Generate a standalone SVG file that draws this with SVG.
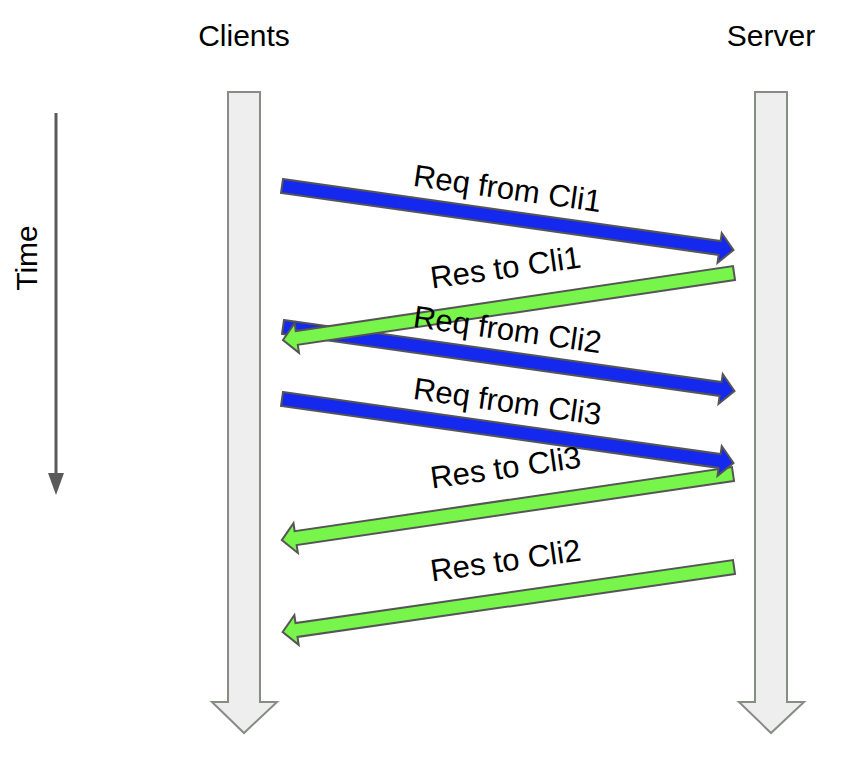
<svg xmlns="http://www.w3.org/2000/svg" xmlns:xlink="http://www.w3.org/1999/xlink" width="852" height="760" viewBox="0 0 852 760">
<style>
.lbl{font-family:"Liberation Sans",Arial,sans-serif;font-size:30px;fill:#000;text-anchor:middle}
.al{font-size:31px}
.life{fill:#eeeeee;stroke:#868c86;stroke-width:2}
.req{fill:#1428ee;stroke:#555555;stroke-width:2;stroke-linejoin:miter}
.res{fill:#78f54b;stroke:#555555;stroke-width:2;stroke-linejoin:miter}
</style>
<defs>
<polygon id="ba" points="0,-7 442,-7 442,-15 456,0 442,15 442,7 0,7"/>
</defs>
<rect width="852" height="760" fill="#ffffff"/>
<g id="clients">
<polygon class="life" points="228,92 260,92 260,702 277,702 244,733 212,702 228,702"/>
<text class="lbl" x="244" y="46">Clients</text>
</g>
<g id="server">
<polygon class="life" points="755,92 787,92 787,702 804,702 771,733 739,702 755,702"/>
<text class="lbl" x="771" y="46">Server</text>
</g>
<g id="time">
<line x1="56" y1="113" x2="56" y2="474" stroke="#5a5a5a" stroke-width="3"/>
<polygon points="48,473 64,473 56,495" fill="#5a5a5a"/>
<text class="lbl" transform="translate(37,258) rotate(-90)">Time</text>
</g>
<g id="connectors">
<use id="req1" xlink:href="#ba" class="req" transform="translate(282,186) rotate(8.06)"/>
<use id="req2" xlink:href="#ba" class="req" transform="translate(283,327) rotate(8.06)"/>
<use id="res1" xlink:href="#ba" class="res" transform="translate(734,273) rotate(171.55)"/>
<use id="res3" xlink:href="#ba" class="res" transform="translate(733,474) rotate(171.66)"/>
<use id="req3" xlink:href="#ba" class="req" transform="translate(282,399) rotate(8.06)"/>
<use id="res2" xlink:href="#ba" class="res" transform="translate(734,567) rotate(171.8)"/>
<g id="connector-labels">
<text class="lbl al" transform="translate(506,199) rotate(8)">Req from Cli1</text>
<text class="lbl al" transform="translate(506,340) rotate(8)">Req from Cli2</text>
<text class="lbl al" transform="translate(507,278) rotate(-8)">Res to Cli1</text>
<text class="lbl al" transform="translate(507,478) rotate(-8)">Res to Cli3</text>
<text class="lbl al" transform="translate(506,412) rotate(8)">Req from Cli3</text>
<text class="lbl al" transform="translate(507,571) rotate(-8)">Res to Cli2</text>
</g>
</g>
</svg>
